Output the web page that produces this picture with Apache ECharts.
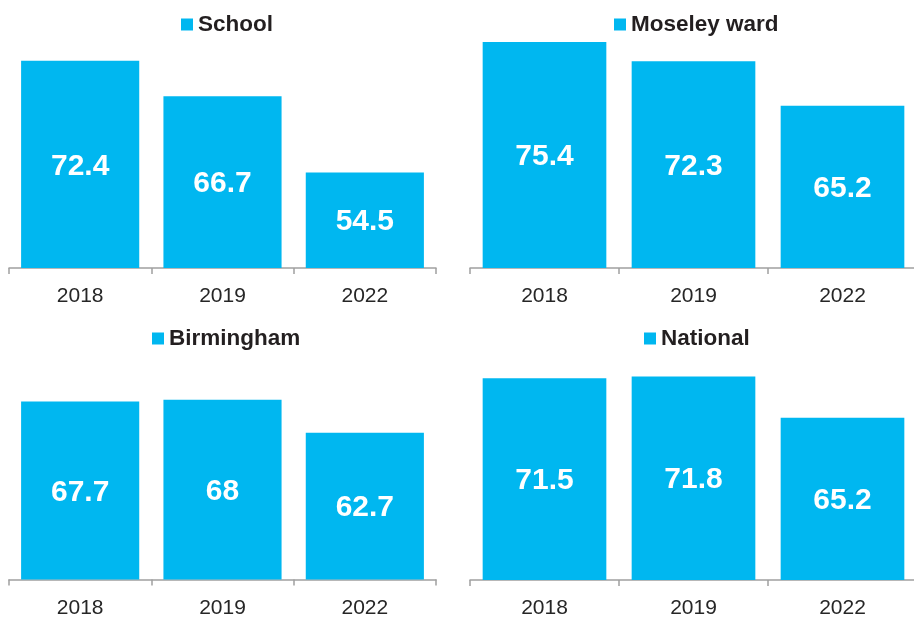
<!DOCTYPE html>
<html>
<head>
<meta charset="utf-8">
<script src="https://cdn.jsdelivr.net/npm/echarts@6/dist/echarts.min.js"></script>
<style>
html,body{margin:0;padding:0;background:#fff;}
#c{width:914px;height:618px;}
</style>
</head>
<body>
<div id="c"></div>
<script>
const categories = ['2018', '2019', '2022'];
const seriesNames = ['School', 'Moseley ward', 'Birmingham', 'National'];
const school = [72.4, 66.7, 54.5];
const moseley = [75.4, 72.3, 65.2];
const birmingham = [67.7, 68, 62.7];
const national = [71.5, 71.8, 65.2];
const allValues = [school, moseley, birmingham, national];

const BAR = '#00B7F0';
const FONT = '"Liberation Sans", Arial, sans-serif';
const AXIS_MIN = 39.2, AXIS_MAX = 80;

const grids = [
  {left: 9, width: 427, top: 13.2, height: 254.8},
  {left: 470, width: 447, top: 13.2, height: 254.8},
  {left: 9, width: 427, top: 324.7, height: 254.8},
  {left: 470, width: 447, top: 325.2, height: 254.8}
];
const legendPos = [
  {left: 181, top: 13},
  {left: 614, top: 13},
  {left: 152, top: 327},
  {left: 644, top: 327}
];

const option = {
  animation: false,
  backgroundColor: '#fff',
  textStyle: {fontFamily: FONT},
  grid: grids.map(g => Object.assign({containLabel: false, outerBoundsMode: 'none'}, g)),
  legend: seriesNames.map((n, i) => ({
    data: [n],
    left: legendPos[i].left,
    top: legendPos[i].top,
    padding: 0,
    icon: 'rect',
    itemWidth: 12,
    itemHeight: 12,
    selectedMode: false,
    textStyle: {fontFamily: FONT, fontSize: 22.5, fontWeight: 'bold', color: '#231f20'}
  })),
  xAxis: seriesNames.map((n, i) => ({
    type: 'category',
    gridIndex: i,
    data: categories,
    boundaryGap: true,
    axisLine: {show: true, lineStyle: {color: '#a0a0a0', width: 1.5}},
    axisTick: {show: true, length: 6, alignWithLabel: false, lineStyle: {color: '#a0a0a0', width: 1.5}},
    axisLabel: {margin: 18, fontFamily: FONT, fontSize: 21, color: '#262626'},
    splitLine: {show: false}
  })),
  yAxis: seriesNames.map((n, i) => ({
    type: 'value',
    gridIndex: i,
    min: AXIS_MIN,
    max: AXIS_MAX,
    show: false,
    splitLine: {show: false}
  })),
  series: seriesNames.map((n, i) => ({
    name: n,
    type: 'bar',
    xAxisIndex: i,
    yAxisIndex: i,
    data: allValues[i],
    barCategoryGap: '17%',
    itemStyle: {color: BAR},
    label: {
      show: true,
      position: 'inside',
      offset: [0, 2],
      color: '#fff',
      fontFamily: FONT,
      fontSize: 30,
      fontWeight: 'bold'
    }
  }))
};

const chart = echarts.init(document.getElementById('c'), null, {renderer: 'canvas'});
chart.setOption(option);
</script>
</body>
</html>
